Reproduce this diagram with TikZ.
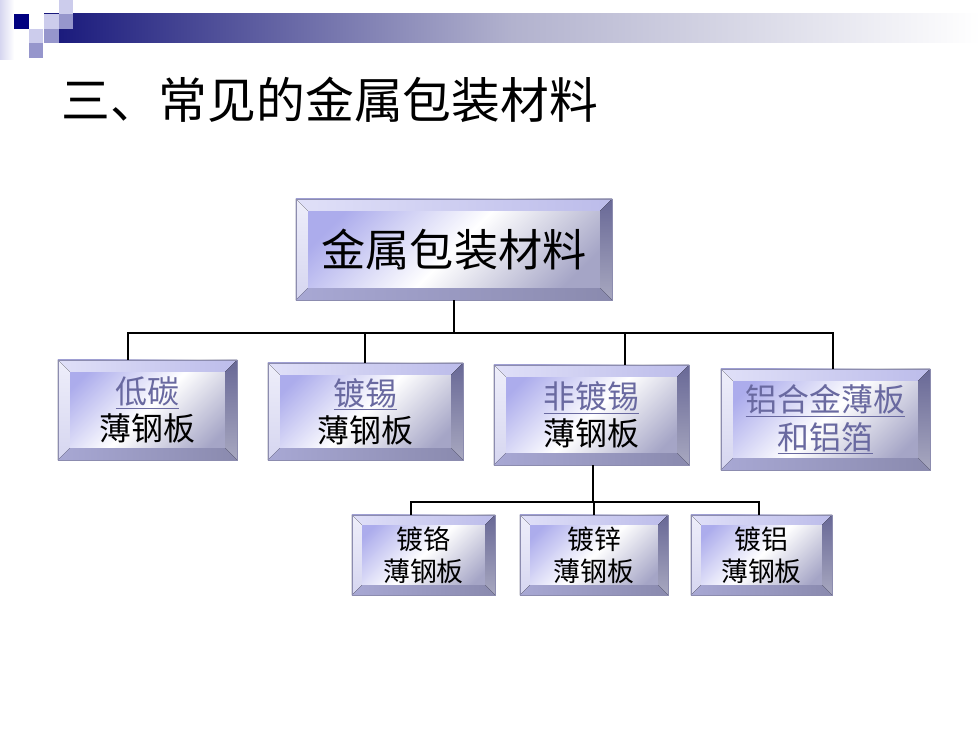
\documentclass[tikz,border=0pt]{standalone}
\usepackage{fontspec}
\setmainfont{Noto Sans CJK SC}
\usepackage{xcolor}
\usetikzlibrary{positioning}
\usetikzlibrary{calc}
\definecolor{navyColor}{RGB}{22,22,122}
\definecolor{barMid}{RGB}{178,178,206}
\definecolor{sqDark}{RGB}{0,0,128}
\definecolor{sqLight}{RGB}{204,204,236}
\definecolor{sqMid}{RGB}{150,150,204}
\definecolor{sqStrip}{RGB}{214,214,240}
\definecolor{linkColor}{RGB}{105,105,160}
\definecolor{edgeColor}{RGB}{140,140,175}
\definecolor{faceA}{RGB}{172,172,236}
\definecolor{faceB}{RGB}{165,165,198}
\definecolor{bevTopL}{RGB}{224,224,248}
\definecolor{bevTopR}{RGB}{188,188,234}
\definecolor{bevLeftT}{RGB}{238,238,250}
\definecolor{bevLeftB}{RGB}{214,214,240}
\definecolor{bevRightT}{RGB}{104,104,150}
\definecolor{bevRightB}{RGB}{168,168,192}
\definecolor{bevBotL}{RGB}{168,168,212}
\definecolor{bevBotR}{RGB}{138,138,174}

\begin{document}
\begin{tikzpicture}[x=0.025cm,y=-0.025cm,
  link/.style={line width=1.4pt},
  bevbox/.style={draw=edgeColor, line width=0.5pt,
    top color=faceA, bottom color=faceB, middle color=white, shading angle=45,
    align=center, inner sep=0pt, path picture={\Bevel{#1}}},
  bigtext/.style={font=\fontsize{31.4}{36}\selectfont},
  midtext/.style={font=\fontsize{22.7}{26.5}\selectfont},
  smalltext/.style={font=\fontsize{19.1}{22.8}\selectfont}]
\newcommand\Bevel[1]{
  \coordinate (pa) at (path picture bounding box.north west);
  \coordinate (pc) at (path picture bounding box.south east);
  \coordinate (pb) at (pa -| pc);
  \coordinate (pd) at (pa |- pc);
  \fill [left color=bevTopL, right color=bevTopR] (pa) -- (pb) -- ([shift={(-#1,-#1)}]pb) -- ([shift={(#1,-#1)}]pa) -- cycle;
  \fill [top color=bevLeftT, bottom color=bevLeftB] (pa) -- ([shift={(#1,-#1)}]pa) -- ([shift={(#1,#1)}]pd) -- (pd) -- cycle;
  \fill [top color=bevRightT, bottom color=bevRightB] (pb) -- (pc) -- ([shift={(-#1,#1)}]pc) -- ([shift={(-#1,-#1)}]pb) -- cycle;
  \fill [left color=bevBotL, right color=bevBotR] (pd) -- ([shift={(#1,#1)}]pd) -- ([shift={(-#1,#1)}]pc) -- (pc) -- cycle;
}
\newcommand\Lnk[1]{\textcolor{linkColor}{\underline{#1}}}
\useasboundingbox (0,0) rectangle (980,735);

\shade [left color=sqStrip, right color=white] (0,0) rectangle (14,60);
\shade [left color=navyColor, right color=white, middle color=barMid] (44,14) rectangle (980,43);
\fill [sqDark] (14,14) rectangle (29,29);
\fill [white] (29,14) rectangle (43,29);
\fill [sqLight] (44,14) rectangle (59,29);
\fill [sqLight] (59,0) rectangle (73,14);
\fill [sqMid] (59,14) rectangle (73,29);
\fill [sqLight] (29,29) rectangle (43,43);
\fill [sqMid] (44,29) rectangle (59,43);
\fill [sqMid] (29,43) rectangle (43,58);

\node [anchor=west, inner sep=0pt, font=\fontsize{34.7}{40}\selectfont] (title) at (61,100) {三、常见的金属包装材料};

\node [bevbox=0.3cm, bigtext, minimum width=7.9cm, minimum height=2.525cm] (metal) at (454,249.5) {金属包装材料};

\node [bevbox=0.3cm, midtext, minimum width=4.475cm, minimum height=2.5cm] (lowc) at (147.5,410) {\Lnk{低碳}\\薄钢板};
\node [bevbox=0.3cm, midtext, minimum width=4.875cm, minimum height=2.425cm] (tin) at (365.5,411.5) {\Lnk{镀锡}\\薄钢板};
\node [bevbox=0.3cm, midtext, minimum width=4.875cm, minimum height=2.5cm] (notin) at (591.5,415) {\Lnk{非镀锡}\\薄钢板};
\node [bevbox=0.3cm, midtext, minimum width=5.225cm, minimum height=2.525cm] (alu) at (825.5,419.5) {\Lnk{铝合金薄板}\\\Lnk{和铝箔}};

\node [bevbox=0.25cm, smalltext, minimum width=3.575cm, minimum height=2cm] (chrome) at (423.5,555) {镀铬\\薄钢板};
\node [bevbox=0.25cm, smalltext, minimum width=3.7cm, minimum height=2cm] (zinc) at (594,555) {镀锌\\薄钢板};
\node [bevbox=0.25cm, smalltext, minimum width=3.525cm, minimum height=2cm] (alplate) at (761.5,555) {镀铝\\薄钢板};

\coordinate (busA) at (455,333);
\coordinate (busB) at (593,502);
\draw [link] (metal.south) -- (metal.south |- busA);
\draw [link] ([xshift=-0.49cm]lowc.north) |- (busA) -| ([xshift=0.19cm]alu.north);
\draw [link] ([xshift=-0.01cm]tin.north) -- ([xshift=-0.01cm]tin.north |- busA);
\draw [link] ([xshift=0.84cm]notin.north) -- ([xshift=0.84cm]notin.north |- busA);
\draw [link] ([xshift=0.04cm]notin.south) -- ([xshift=0.04cm]notin.south |- busB);
\draw [link] ([xshift=-0.31cm]chrome.north) |- (busB) -| ([xshift=-0.06cm]alplate.north);
\draw [link] (zinc.north) -- (zinc.north |- busB);
\end{tikzpicture}
\end{document}
